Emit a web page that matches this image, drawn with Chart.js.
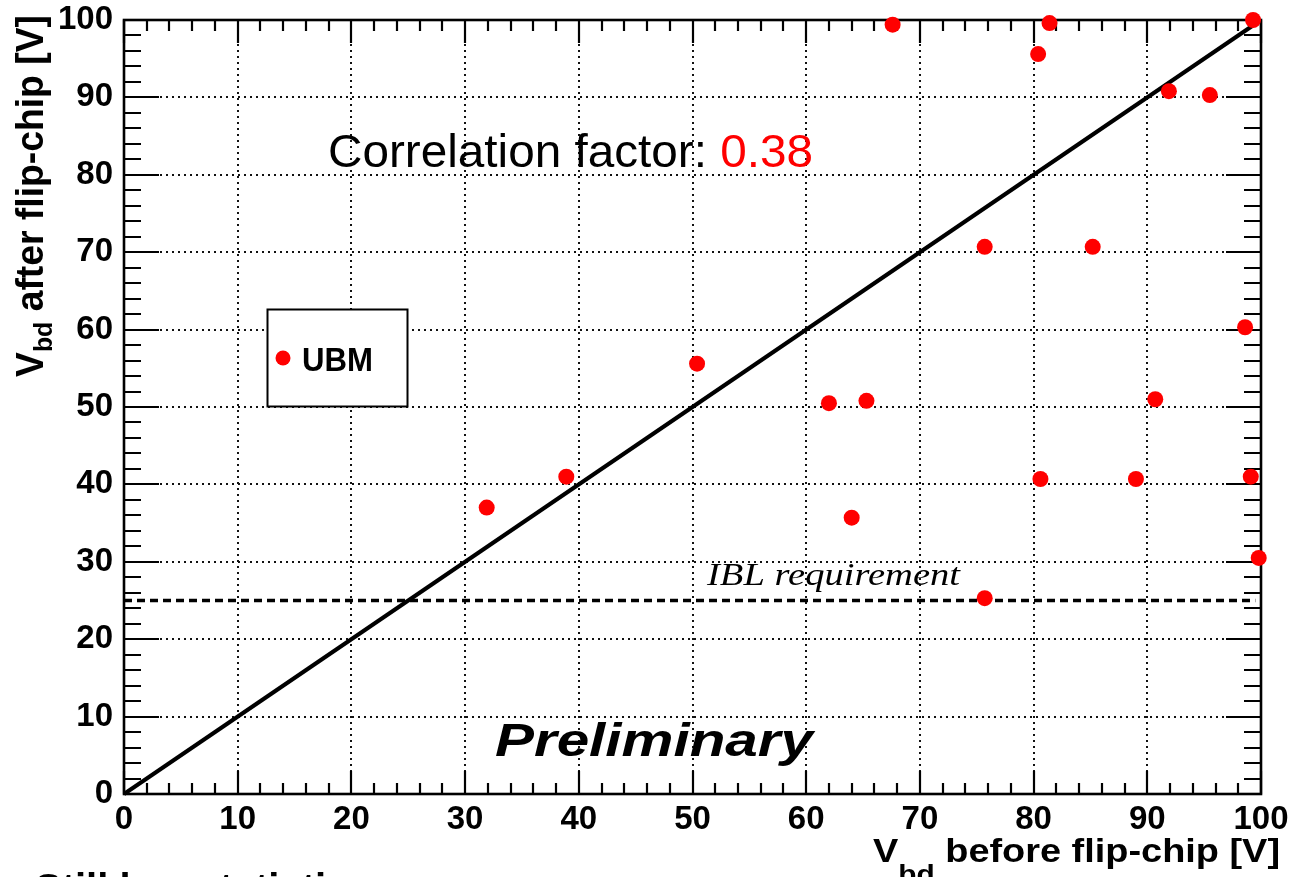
<!DOCTYPE html>
<html>
<head>
<meta charset="utf-8">
<script src="https://cdn.jsdelivr.net/npm/chart.js@4/dist/chart.umd.min.js"></script>
<style>
  html, body { margin: 0; padding: 0; background: #fff; }
  #wrap { width: 1291px; height: 877px; position: relative; }
  canvas { display: block; }
</style>
</head>
<body>
<div id="wrap"><canvas id="c" width="1291" height="877"></canvas></div>
<script>
// ---- data ----
const seriesLabel = 'UBM';
const vbdBefore = [31.9, 38.9, 50.4, 62.0, 64.0, 65.3, 67.6, 75.7, 75.7, 80.4, 81.4, 80.6, 85.2, 89.0, 90.7, 91.9, 95.5, 98.6, 99.1, 99.3, 99.8];
const vbdAfter  = [37.0, 41.0, 55.6, 50.5, 35.7, 50.8, 99.4, 70.7, 25.3, 95.6, 99.6, 40.7, 70.7, 40.7, 51.0, 90.8, 90.3, 60.3, 41.0, 100.0, 30.5];
const diagonalX = [0, 100];
const diagonalY = [0, 100];
const iblRequirementX = [0, 99.5];
const iblRequirementY = [25, 25];
const xTickValues = [0, 10, 20, 30, 40, 50, 60, 70, 80, 90, 100];
const yTickValues = [0, 10, 20, 30, 40, 50, 60, 70, 80, 90, 100];
const minorStep = 2;
const correlationText = 'Correlation factor: ';
const correlationValue = '0.38';

const points = vbdBefore.map((x, i) => ({ x: x, y: vbdAfter[i] }));
const diag = diagonalX.map((x, i) => ({ x: x, y: diagonalY[i] }));
const ibl = iblRequirementX.map((x, i) => ({ x: x, y: iblRequirementY[i] }));

const SANS = '"Liberation Sans", Arial, Helvetica, sans-serif';
const SERIF = '"Liberation Serif", "Times New Roman", serif';

function fitText(ctx, text, x, y, targetW, font, color) {
  ctx.save();
  ctx.font = font;
  const w = ctx.measureText(text).width;
  ctx.translate(x, y);
  ctx.scale(targetW / w, 1);
  ctx.fillStyle = color;
  ctx.textAlign = 'left';
  ctx.textBaseline = 'alphabetic';
  ctx.fillText(text, 0, 0);
  ctx.restore();
}

function drawPieces(ctx, pieces, targetW, sy) {
  let total = 0;
  pieces.forEach(p => { ctx.font = p.font; p.w = ctx.measureText(p.t).width; total += p.w; });
  const sx = targetW / total;
  ctx.scale(sx, sy || 1);
  let cx = 0;
  ctx.fillStyle = '#000';
  ctx.textAlign = 'left';
  ctx.textBaseline = 'alphabetic';
  pieces.forEach(p => { ctx.font = p.font; ctx.fillText(p.t, cx, p.dy); cx += p.w; });
}

const framePlugin = {
  id: 'frameTicks',
  beforeDatasetsDraw(chart) {
    const { ctx, chartArea: a, scales } = chart;
    const xs = scales.x, ys = scales.y;
    ctx.save();
    ctx.strokeStyle = '#000';
    ctx.lineWidth = 2.2;
    ctx.beginPath();
    const xmin = xTickValues[0], xmax = xTickValues[xTickValues.length - 1];
    for (let v = xmin; v <= xmax + 1e-9; v += minorStep) {
      const major = xTickValues.includes(Math.round(v));
      const px = Math.round(xs.getPixelForValue(v));
      const L = major ? 23 : 11;
      ctx.moveTo(px, a.bottom); ctx.lineTo(px, a.bottom - L);
      ctx.moveTo(px, a.top); ctx.lineTo(px, a.top + L);
    }
    const ymin = yTickValues[0], ymax = yTickValues[yTickValues.length - 1];
    for (let v = ymin; v <= ymax + 1e-9; v += minorStep) {
      const major = yTickValues.includes(Math.round(v));
      const py = Math.round(ys.getPixelForValue(v));
      const L = major ? 35 : 17;
      ctx.moveTo(a.left, py); ctx.lineTo(a.left + L, py);
      ctx.moveTo(a.right, py); ctx.lineTo(a.right - L, py);
    }
    ctx.stroke();
    ctx.lineWidth = 2.6;
    ctx.strokeRect(a.left, a.top, a.right - a.left, a.bottom - a.top);
    ctx.restore();
  },
  afterDraw(chart) {
    const { ctx } = chart;
    // Correlation factor
    ctx.save();
    ctx.font = '47px ' + SANS;
    const w1 = ctx.measureText(correlationText).width;
    const w2 = ctx.measureText(correlationValue).width;
    const s = 485 / (w1 + w2);
    ctx.translate(328, 167);
    ctx.scale(s, 1);
    ctx.textBaseline = 'alphabetic';
    ctx.fillStyle = '#000';
    ctx.fillText(correlationText, 0, 0);
    ctx.fillStyle = '#ff0000';
    ctx.fillText(correlationValue, w1, 0);
    ctx.restore();

    // Preliminary
    fitText(ctx, 'Preliminary', 495, 756, 318, 'italic bold 47px ' + SANS, '#000');

    // IBL requirement
    fitText(ctx, 'IBL requirement', 707, 585, 253, 'italic 31px ' + SERIF, '#000');

    // Legend
    ctx.save();
    ctx.fillStyle = '#fff';
    ctx.fillRect(267, 309, 141, 98);
    ctx.strokeStyle = '#000';
    ctx.lineWidth = 2;
    ctx.strokeRect(267.5, 309.5, 140, 97);
    ctx.fillStyle = '#ff0000';
    ctx.beginPath();
    ctx.arc(283, 358, 7.5, 0, Math.PI * 2);
    ctx.fill();
    ctx.restore();
    fitText(ctx, chart.data.datasets[0].label, 302, 371, 71, 'bold 33px ' + SANS, '#000');

    // X axis title
    ctx.save();
    ctx.translate(873, 862);
    drawPieces(ctx, [
      { t: 'V', font: 'bold 33px ' + SANS, dy: 0 },
      { t: 'bd', font: 'bold 26px ' + SANS, dy: 21 },
      { t: ' before flip-chip [V]', font: 'bold 33px ' + SANS, dy: 0 }
    ], 407, 1);
    ctx.restore();

    // Y axis title
    ctx.save();
    ctx.translate(43, 377);
    ctx.rotate(-Math.PI / 2);
    drawPieces(ctx, [
      { t: 'V', font: 'bold 33px ' + SANS, dy: 0 },
      { t: 'bd', font: 'bold 22px ' + SANS, dy: 8 },
      { t: ' after flip-chip [V]', font: 'bold 33px ' + SANS, dy: 0 }
    ], 362, 1.18);
    ctx.restore();

    // bottom text, cut by the picture edge
    ctx.save();
    ctx.font = 'bold 40px ' + SANS;
    ctx.fillStyle = '#000';
    ctx.textBaseline = 'alphabetic';
    ctx.fillText('Still low statistics', 35, 902);
    ctx.restore();
  }
};

const tickFont = { family: SANS, size: 33, weight: 'bold' };

new Chart(document.getElementById('c'), {
  type: 'scatter',
  data: {
    datasets: [
      {
        label: seriesLabel,
        data: points,
        backgroundColor: '#ff0000',
        borderColor: '#ff0000',
        borderWidth: 0,
        pointRadius: 8,
        pointHoverRadius: 8,
        clip: false
      },
      {
        label: 'diagonal',
        type: 'line',
        data: diag,
        borderColor: '#000',
        borderWidth: 4,
        pointRadius: 0,
        fill: false,
        clip: false
      },
      {
        label: 'IBL requirement',
        type: 'line',
        data: ibl,
        borderColor: '#000',
        borderWidth: 3.5,
        borderDash: [8, 5],
        pointRadius: 0,
        fill: false
      }
    ]
  },
  options: {
    responsive: false,
    devicePixelRatio: 1,
    animation: false,
    events: [],
    layout: { padding: { left: 0, right: 30, top: 20, bottom: 0 } },
    plugins: {
      legend: { display: false },
      tooltip: { enabled: false },
      title: { display: false }
    },
    scales: {
      x: {
        type: 'linear',
        min: 0,
        max: 100,
        afterBuildTicks: (scale) => { scale.ticks = xTickValues.map(v => ({ value: v })); },
        afterFit: (scale) => { scale.height = 83; scale.paddingLeft = 0; scale.paddingRight = 0; },
        ticks: { font: tickFont, color: '#000', padding: 6, maxRotation: 0, autoSkip: false },
        grid: { color: '#111', lineWidth: 2, drawTicks: false },
        border: { display: false, dash: [2, 4] }
      },
      y: {
        type: 'linear',
        min: 0,
        max: 100,
        afterBuildTicks: (scale) => { scale.ticks = yTickValues.map(v => ({ value: v })); },
        afterFit: (scale) => { scale.width = 124; scale.paddingTop = 0; scale.paddingBottom = 0; },
        ticks: { font: tickFont, color: '#000', padding: 11, autoSkip: false },
        grid: { color: '#111', lineWidth: 2, drawTicks: false },
        border: { display: false, dash: [2, 4] }
      }
    }
  },
  plugins: [framePlugin]
});
</script>
</body>
</html>
